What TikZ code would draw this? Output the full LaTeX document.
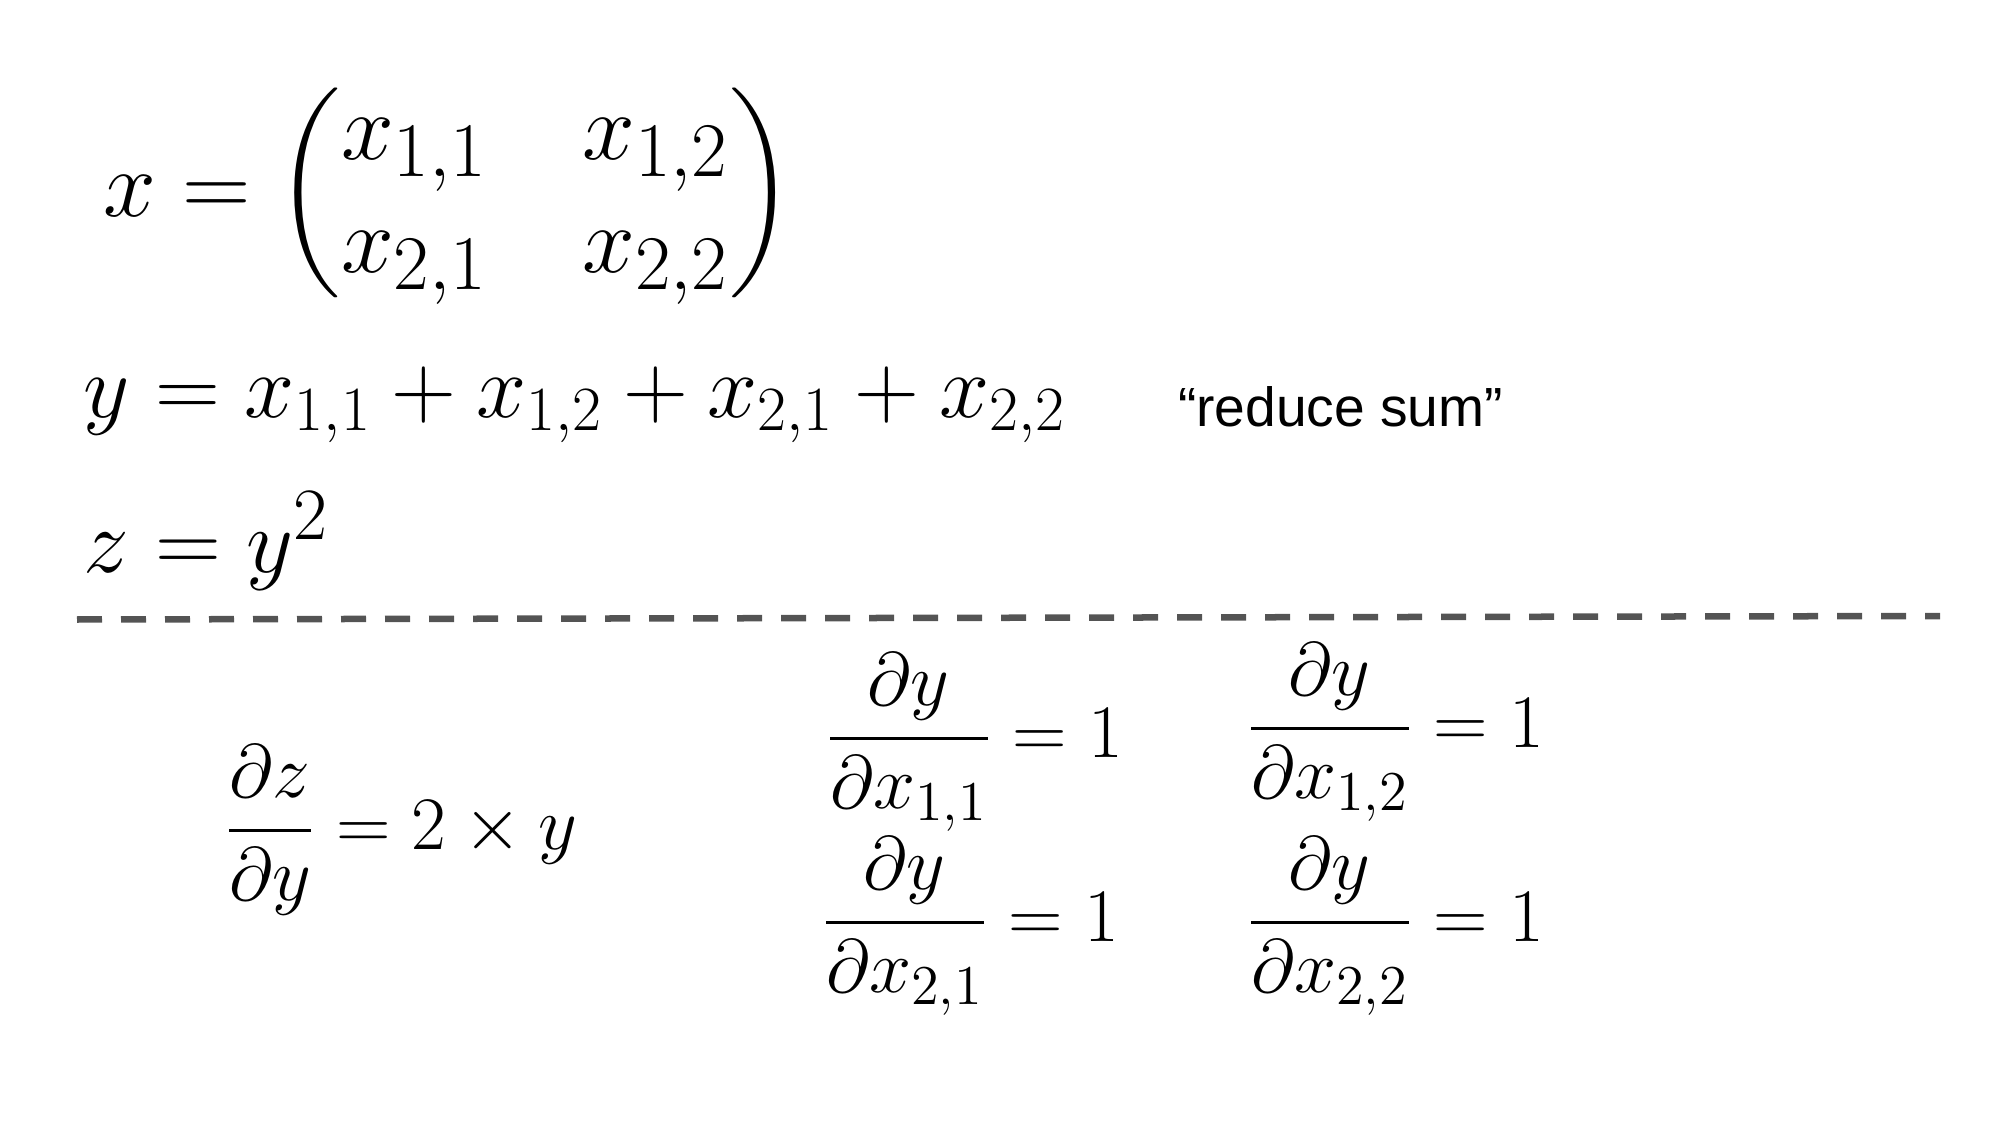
\RequirePackage{fix-cm}
\documentclass[tikz,border=0pt]{standalone}
\usepackage{amsmath}
\usepackage{fontspec}
\newfontfamily\labelfont{Liberation Sans}
\DeclareMathSizes{27}{27}{22}{15}
\DeclareMathSizes{26}{26}{21}{15}
\DeclareMathSizes{21.5}{21.5}{16}{11}
\begin{document}
\begin{tikzpicture}[semithick,
  eq/.style={anchor=base west,inner sep=0pt,outer sep=0pt},
  big/.style={eq,font=\fontsize{27}{32}\selectfont},
  mid/.style={eq,font=\fontsize{25.6}{30}\selectfont},
  small/.style={eq,font=\fontsize{21.5}{26}\selectfont}]
\useasboundingbox(0,0)rectangle(20,11.25);
\node[big](xdef)at(1.03,9.08){\setlength\arraycolsep{13.5pt}$x=\begin{pmatrix}x_{1,1}&x_{1,2}\\x_{2,1}&x_{2,2}\end{pmatrix}$};
\node[mid](ydef)at(0.84,7.08){$y=x_{1,1}+x_{1,2}+x_{2,1}+x_{2,2}$};
\node[eq,font=\labelfont\fontsize{15.7}{19}\selectfont](note)at(11.78,6.98){“reduce sum”};
\node[eq,font=\fontsize{26}{30}\selectfont](zdef)at(0.84,5.52){$z=y^2$};
\coordinate(sepl)at(0.77,5.055);
\coordinate(sepr)at(19.40,5.09);
\draw[line width=1.85pt,color=black!67,dash pattern=on 0.25cm off 0.19cm](sepl)--(sepr);
\node[small](dzdy)at(2.25,2.76){$\displaystyle\frac{\partial z}{\partial y}=2\times y$};
\node[small](d11)at(8.26,3.68){$\displaystyle\frac{\partial y}{\partial x_{1,1}}=1$};
\node[small](d12)at(12.47,3.78){$\displaystyle\frac{\partial y}{\partial x_{1,2}}=1$};
\node[small](d21)at(8.22,1.84){$\displaystyle\frac{\partial y}{\partial x_{2,1}}=1$};
\node[small](d22)at(12.47,1.84){$\displaystyle\frac{\partial y}{\partial x_{2,2}}=1$};
\end{tikzpicture}
\end{document}
